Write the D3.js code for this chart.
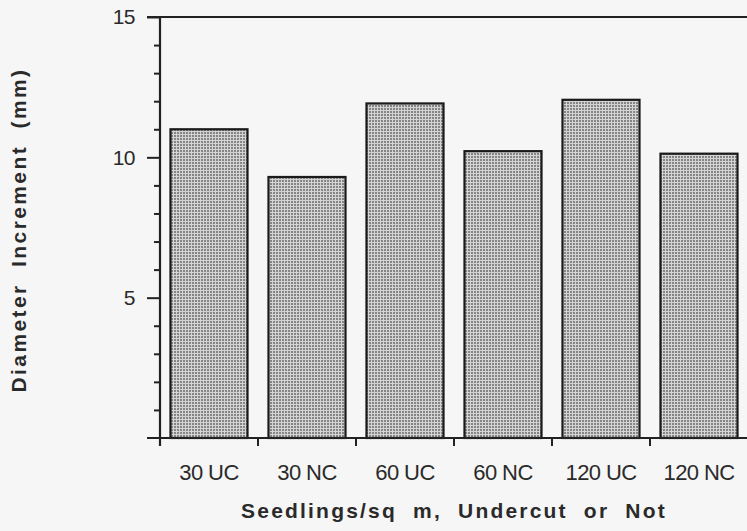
<!DOCTYPE html>
<html><head><meta charset="utf-8">
<script src="https://cdn.jsdelivr.net/npm/d3@7"></script>
<style>
html,body{margin:0;padding:0;background:#f6f6f6;}
svg{display:block;}
</style></head>
<body>
<script>
const categories = ["30 UC","30 NC","60 UC","60 NC","120 UC","120 NC"];
const values = [11.0, 9.3, 11.92, 10.22, 12.05, 10.13];
const majorTicks = [5, 10, 15];
const minorTicks = [1,2,3,4,6,7,8,9,11,12,13,14];
const xTitle = "Seedlings/sq  m,  Undercut  or  Not";
const yTitle = "Diameter  Increment  (mm)";

const W = 747, H = 531;
const svg = d3.select("body").append("svg").attr("width", W).attr("height", H);

const defs = svg.append("defs");
const pat = defs.append("pattern").attr("id","dots").attr("patternUnits","userSpaceOnUse")
  .attr("width",3).attr("height",3);
pat.append("rect").attr("width",3).attr("height",3).attr("fill","#d4d4d4");
pat.append("rect").attr("width",2).attr("height",2).attr("fill","#858585");

const x = d3.scaleBand().domain(categories).range([160, 748]).paddingInner(0.214).paddingOuter(0.107);
const y = d3.scaleLinear().domain([0, 15]).range([438, 17]);

const axisColor = "#222";
const font = "Liberation Sans, Arial, sans-serif";

// bars
svg.append("g").selectAll("rect").data(categories).join("rect")
  .attr("x", d => x(d))
  .attr("y", (d,i) => y(values[i]))
  .attr("width", x.bandwidth())
  .attr("height", (d,i) => y(0) - y(values[i]))
  .attr("fill", "url(#dots)")
  .attr("stroke", "#1a1a1a")
  .attr("stroke-width", 2.2);

// y axis major
const yAx = svg.append("g").attr("transform","translate(160,0)")
  .call(d3.axisLeft(y).tickValues(majorTicks).tickSize(13).tickPadding(12).tickFormat(d3.format("d")));
yAx.select(".domain").remove();
yAx.selectAll(".tick line").attr("stroke", axisColor).attr("stroke-width", 2);
yAx.selectAll(".tick text").attr("font-family",font)
  .attr("font-size", 21).attr("fill","#2a2a2a").attr("letter-spacing","-0.5");

// y axis minor
const yMin = svg.append("g").attr("transform","translate(160,0)")
  .call(d3.axisLeft(y).tickValues(minorTicks).tickSize(6).tickFormat(""));
yMin.select(".domain").remove();
yMin.selectAll(".tick line").attr("stroke", axisColor).attr("stroke-width", 2);

// vertical axis line
svg.append("line").attr("x1",160).attr("x2",160).attr("y1",y(15)).attr("y2",y(0)+8)
  .attr("stroke",axisColor).attr("stroke-width",2.2);
// top frame line
svg.append("line").attr("x1",147).attr("x2",W).attr("y1",y(15)).attr("y2",y(15))
  .attr("stroke",axisColor).attr("stroke-width",2.2);
// x axis line
svg.append("line").attr("x1",147).attr("x2",W).attr("y1",y(0)).attr("y2",y(0))
  .attr("stroke",axisColor).attr("stroke-width",2.2);

// x axis labels
const xAx = svg.append("g").attr("transform",`translate(0,${y(0)})`)
  .call(d3.axisBottom(x).tickSize(0).tickPadding(26));
xAx.select(".domain").remove();
xAx.selectAll(".tick text").attr("font-family",font)
  .attr("font-size", 22).attr("fill","#2a2a2a").attr("letter-spacing","-0.6");

// x separator ticks between bands
const step = x.step();
const sepTicks = categories.slice(0, -1).map(c => x(c) + x.bandwidth() + step * x.paddingInner() / 2);
svg.append("g").selectAll("line").data(sepTicks).join("line")
  .attr("x1", d => d).attr("x2", d => d)
  .attr("y1", y(0)).attr("y2", y(0) + 8)
  .attr("stroke", axisColor).attr("stroke-width", 2);

// titles
svg.append("text").attr("x", 454).attr("y", 518).attr("text-anchor","middle")
  .attr("font-family",font).attr("font-weight","bold")
  .attr("font-size", 21).attr("letter-spacing","2.2").attr("fill","#2a2a2a")
  .style("white-space","pre").text(xTitle);

svg.append("text").attr("transform","translate(26,230) rotate(-90)").attr("text-anchor","middle")
  .attr("font-family",font).attr("font-weight","bold")
  .attr("font-size", 21).attr("letter-spacing","2.4").attr("fill","#2a2a2a")
  .style("white-space","pre").text(yTitle);
</script>
</body></html>
